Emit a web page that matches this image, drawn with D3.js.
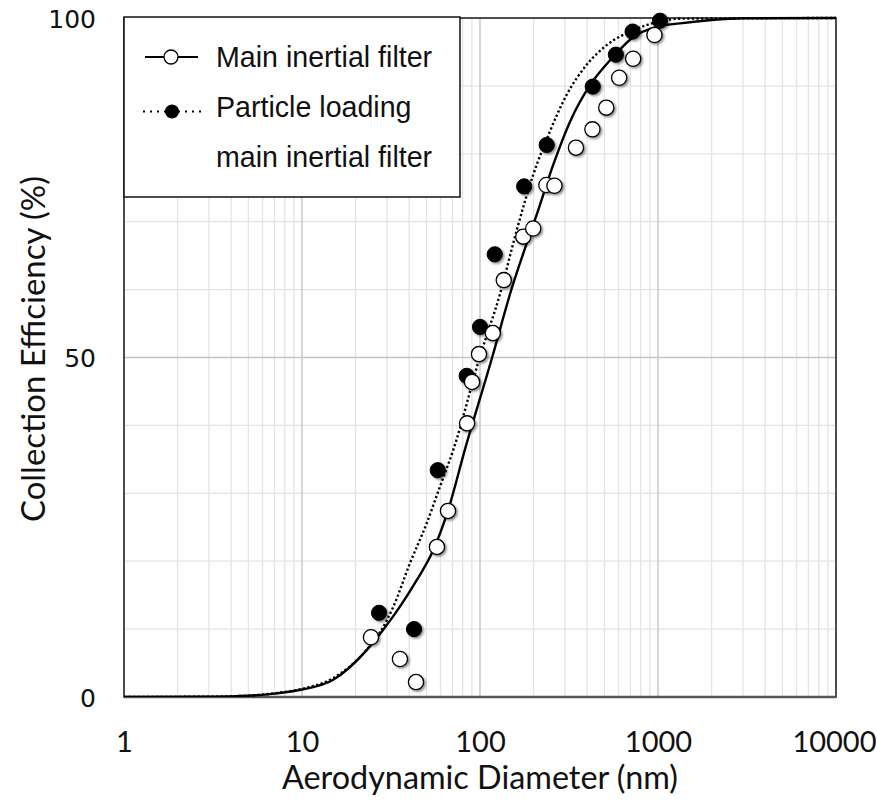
<!DOCTYPE html>
<html>
<head>
<meta charset="utf-8">
<script src="https://cdn.jsdelivr.net/npm/d3@7/dist/d3.min.js"></script>
<style>
  html, body { margin: 0; padding: 0; background: #fff; }
  svg { display: block; }
</style>
</head>
<body>
<svg id="chart" width="877" height="803"></svg>
<script>
// Measured collection efficiency, main inertial filter (open circles)
const diamOpen = [24.4, 35.5, 43.7, 57.3, 66.1, 84.6, 90.2, 98.7, 118, 136, 175, 199, 236, 262, 346, 428, 512, 605, 725, 955];
const effOpen  = [8.8, 5.6, 2.2, 22.1, 27.4, 40.3, 46.4, 50.5, 53.6, 61.4, 67.8, 69.0, 75.4, 75.3, 80.9, 83.6, 86.8, 91.2, 94.0, 97.5];

// Measured collection efficiency, particle-loaded main inertial filter (filled circles)
const diamLoaded = [27.1, 42.6, 57.9, 84.2, 100, 121, 177, 237, 430, 580, 720, 1026];
const effLoaded  = [12.4, 10.0, 33.4, 47.3, 54.5, 65.2, 75.2, 81.3, 89.9, 94.6, 98.0, 99.6];

// Fitted efficiency curve, main inertial filter (solid line)
const fitDiam = [1, 3, 5, 7, 10, 14.9, 23.1, 28.6, 35.5, 44.1, 54.6, 66, 82.2, 117, 150, 183, 208, 258, 320, 415, 561, 727, 984, 1330, 2000, 3000, 10000];
const fitEff  = [0, 0.05, 0.2, 0.5, 1.1, 2.5, 6.9, 9.9, 13.3, 17.2, 21.6, 27.4, 36.4, 50, 60, 66.8, 71.0, 78.4, 84.7, 90.1, 94.3, 97.2, 98.7, 99.2, 99.7, 99.95, 100];

// Fitted efficiency curve, particle-loaded filter (dotted line)
const fitLoadedDiam = [1, 3, 5, 7, 10, 15, 23, 27.4, 32.6, 40.4, 50.2, 59.6, 70.8, 99.6, 130, 161, 199, 247, 307, 397, 515, 727, 1026, 1330, 10000];
const fitLoadedEff  = [0, 0.05, 0.2, 0.55, 1.2, 2.8, 6.9, 9.5, 13.3, 19.7, 25.6, 31.0, 36.4, 50, 59.5, 68.8, 76.9, 83.3, 88.7, 93.1, 96.0, 98.2, 99.5, 99.9, 100];

const xTickValues = [1, 10, 100, 1000, 10000];
const xTickLabels = ["1", "10", "100", "1000", "10000"];
const yTickValues = [0, 50, 100];
const yTickLabels = ["0", "50", "100"];

const legendLabels = ["Main inertial filter", "Particle loading", "main inertial filter"];
const xTitle = "Aerodynamic Diameter (nm)";
const yTitle = "Collection Efficiency (%)";

const svg = d3.select("#chart");
const plot = { left: 124, right: 836, top: 18, bottom: 697 };

const x = d3.scaleLog().domain([1, 10000]).range([plot.left, plot.right]);
const y = d3.scaleLinear().domain([0, 100]).range([plot.bottom, plot.top]);

const defs = svg.append("defs");
const shadow = defs.append("filter").attr("id", "markerShadow")
  .attr("x", "-50%").attr("y", "-50%").attr("width", "200%").attr("height", "200%");
shadow.append("feDropShadow").attr("dx", 1.6).attr("dy", 1.6).attr("stdDeviation", 1.1)
  .attr("flood-color", "#000").attr("flood-opacity", 0.45);

defs.append("clipPath").attr("id", "plotClip").append("rect")
  .attr("x", plot.left).attr("y", plot.top - 2)
  .attr("width", plot.right - plot.left).attr("height", plot.bottom - plot.top + 2);

// Grid: minor log lines per decade, minor every 10 %
const grid = svg.append("g");
const minorX = [];
for (let dec = 1; dec < 10000; dec *= 10) for (let k = 2; k <= 9; k++) minorX.push(dec * k);
grid.selectAll("line.mx").data(minorX).join("line")
  .attr("x1", d => x(d)).attr("x2", d => x(d))
  .attr("y1", plot.top).attr("y2", plot.bottom)
  .attr("stroke", "#e4e4e4").attr("stroke-width", 1.3);
const minorY = d3.range(10, 100, 10).filter(v => v !== 50);
grid.selectAll("line.my").data(minorY).join("line")
  .attr("x1", plot.left).attr("x2", plot.right)
  .attr("y1", d => y(d)).attr("y2", d => y(d))
  .attr("stroke", "#e4e4e4").attr("stroke-width", 1.3);
grid.selectAll("line.MX").data(xTickValues.slice(1, -1)).join("line")
  .attr("x1", d => x(d)).attr("x2", d => x(d))
  .attr("y1", plot.top).attr("y2", plot.bottom)
  .attr("stroke", "#c4c4c4").attr("stroke-width", 1.4);
grid.selectAll("line.MY").data([50]).join("line")
  .attr("x1", plot.left).attr("x2", plot.right)
  .attr("y1", d => y(d)).attr("y2", d => y(d))
  .attr("stroke", "#c4c4c4").attr("stroke-width", 1.4);

// Plot frame
svg.append("rect")
  .attr("x", plot.left).attr("y", plot.top)
  .attr("width", plot.right - plot.left).attr("height", plot.bottom - plot.top)
  .attr("fill", "none").attr("stroke", "#222").attr("stroke-width", 1.6);
svg.append("line")
  .attr("x1", plot.left).attr("x2", plot.right)
  .attr("y1", plot.bottom).attr("y2", plot.bottom)
  .attr("stroke", "#555").attr("stroke-width", 2.6);

// Axes (labels only; the frame supplies the lines)
const xAxis = d3.axisBottom(x).tickValues(xTickValues)
  .tickFormat((d, i) => xTickLabels[i]).tickSize(0).tickPadding(0);
const gx = svg.append("g").attr("transform", `translate(0,${plot.bottom})`).call(xAxis);
gx.select(".domain").remove();
gx.selectAll("text")
  .attr("dy", null).attr("y", 55)
  .attr("font-family", "Lato, 'Open Sans', sans-serif").attr("font-size", 29)
  .attr("fill", "#111");
// keep the last label inside the page
gx.selectAll(".tick").filter(d => d === 10000).select("text")
  .attr("text-anchor", "end").attr("x", 40);

const yAxis = d3.axisLeft(y).tickValues(yTickValues)
  .tickFormat(d => yTickLabels[yTickValues.indexOf(d)]).tickSize(0).tickPadding(0);
const gy = svg.append("g").attr("transform", `translate(${plot.left},0)`).call(yAxis);
gy.select(".domain").remove();
gy.selectAll("text")
  .attr("x", -28).attr("dy", "0.36em")
  .attr("font-family", "'DejaVu Sans', Verdana, sans-serif").attr("font-size", 25)
  .attr("fill", "#111");

// Axis titles
svg.append("text")
  .attr("x", (plot.left + plot.right) / 2).attr("y", 789)
  .attr("text-anchor", "middle")
  .attr("font-family", "Lato, 'Open Sans', sans-serif").attr("font-size", 32)
  .attr("textLength", 396).attr("lengthAdjust", "spacingAndGlyphs")
  .attr("fill", "#111").text(xTitle);
svg.append("text")
  .attr("transform", `translate(45,${349}) rotate(-90)`)
  .attr("text-anchor", "middle")
  .attr("font-family", "Lato, 'Open Sans', sans-serif").attr("font-size", 32)
  .attr("textLength", 346).attr("lengthAdjust", "spacingAndGlyphs")
  .attr("fill", "#111").text(yTitle);

// Fitted curves
const line = d3.line().x(d => x(d[0])).y(d => y(d[1])).curve(d3.curveMonotoneX);
const curves = svg.append("g").attr("clip-path", "url(#plotClip)");
curves.append("path")
  .datum(d3.zip(fitLoadedDiam, fitLoadedEff))
  .attr("d", line).attr("fill", "none")
  .attr("stroke", "#000").attr("stroke-width", 2.4)
  .attr("stroke-dasharray", "2.2,2.4");
curves.append("path")
  .datum(d3.zip(fitDiam, fitEff))
  .attr("d", line).attr("fill", "none")
  .attr("stroke", "#000").attr("stroke-width", 2.4);

// Measured points
const R = 7.6;
svg.append("g").selectAll("circle").data(d3.zip(diamLoaded, effLoaded)).join("circle")
  .attr("cx", d => x(d[0])).attr("cy", d => y(d[1])).attr("r", R)
  .attr("fill", "#000").attr("stroke", "#000").attr("stroke-width", 1)
  .attr("filter", "url(#markerShadow)");
svg.append("g").selectAll("circle").data(d3.zip(diamOpen, effOpen)).join("circle")
  .attr("cx", d => x(d[0])).attr("cy", d => y(d[1])).attr("r", R)
  .attr("fill", "#fff").attr("stroke", "#000").attr("stroke-width", 1.3)
  .attr("filter", "url(#markerShadow)");

// Legend
const lg = svg.append("g");
lg.append("rect").attr("x", 124).attr("y", 17).attr("width", 336).attr("height", 180)
  .attr("fill", "#fff").attr("stroke", "#111").attr("stroke-width", 1.5);
lg.append("line").attr("x1", 145).attr("x2", 198).attr("y1", 57).attr("y2", 57)
  .attr("stroke", "#000").attr("stroke-width", 2.2);
lg.append("circle").attr("cx", 171).attr("cy", 57).attr("r", 7)
  .attr("fill", "#fff").attr("stroke", "#000").attr("stroke-width", 1.3);
lg.append("line").attr("x1", 143).attr("x2", 203).attr("y1", 111.5).attr("y2", 111.5)
  .attr("stroke", "#000").attr("stroke-width", 2).attr("stroke-dasharray", "2,5");
lg.append("circle").attr("cx", 172).attr("cy", 111.5).attr("r", 7)
  .attr("fill", "#000");
lg.selectAll("text").data(legendLabels).join("text")
  .attr("x", 216).attr("y", (d, i) => 66.5 + i * 50)
  .attr("font-family", "'Liberation Sans', Arial, sans-serif").attr("font-size", 28.6)
  .attr("fill", "#111").text(d => d);
</script>
</body>
</html>
